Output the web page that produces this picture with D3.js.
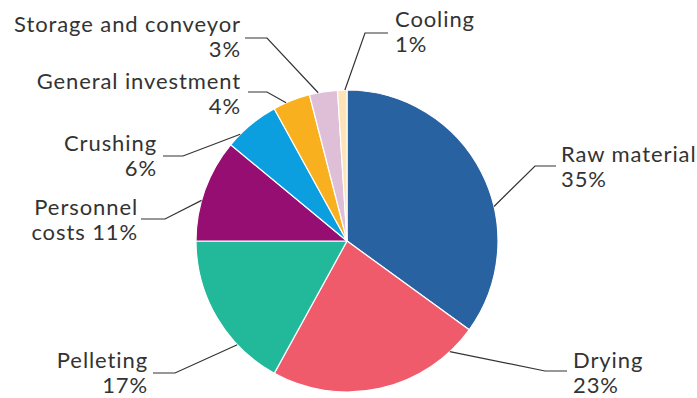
<!DOCTYPE html>
<html>
<head>
<meta charset="utf-8">
<script src="https://cdn.jsdelivr.net/npm/d3@7"></script>
<style>
  body { margin: 0; background: #fff; }
  text { font-family: Lato, "Open Sans", sans-serif; fill: #333; }
</style>
</head>
<body>
<div id="chart"></div>
<script>
// Data
var categories = ["Raw material", "Drying", "Pelleting", "Personnel costs", "Crushing",
                  "General investment", "Storage and conveyor", "Cooling"];
var shares = [35, 23, 17, 11, 6, 4, 3, 1];
var colors = ["#2962a0", "#f05b6b", "#22b99a", "#970e73", "#0c9fe0", "#f9b01f", "#dfbfd8", "#fde3b5"];
// how each label is split into lines
var labelLines = [
  ["Raw material", "35%"],
  ["Drying", "23%"],
  ["Pelleting", "17%"],
  ["Personnel", "costs 11%"],
  ["Crushing", "6%"],
  ["General investment", "4%"],
  ["Storage and conveyor", "3%"],
  ["Cooling", "1%"]
];

// Label layout: angle where leader leaves the pie (deg), elbow point, end x, text anchor point
var layout = [
  { a: 76.8,  elbow: [535, 166], end: 556, tx: 561, ty: 162, anchor: "start" },
  { a: 137.1, elbow: [545, 371], end: 567, tx: 573, ty: 368, anchor: "start" },
  { a: 226.6, elbow: [175, 373], end: 153, tx: 148, ty: 368, anchor: "end" },
  { a: 285.6, elbow: [165, 219], end: 141, tx: 138, ty: 215, anchor: "end" },
  { a: 315,   elbow: [183, 156], end: 163, tx: 157, ty: 151, anchor: "end" },
  { a: 336.2, elbow: [267, 92],  end: 248, tx: 241, ty: 89,  anchor: "end" },
  { a: 349,   elbow: [267, 38],  end: 245, tx: 241, ty: 32,  anchor: "end" },
  { a: 359.2, elbow: [365, 33],  end: 388, tx: 395, ty: 27,  anchor: "start" }
];

var width = 697, height = 398;
var cx = 347, cy = 241, radius = 151;

var svg = d3.select("#chart")
    .append("svg")
    .attr("width", width)
    .attr("height", height);

var pie = d3.pie().sort(null).value(function(d) { return d; });
var arc = d3.arc().innerRadius(0).outerRadius(radius);

var g = svg.append("g")
    .attr("transform", "translate(" + cx + "," + cy + ")");

g.selectAll("path")
    .data(pie(shares))
    .enter().append("path")
    .attr("d", arc)
    .attr("fill", function(d, i) { return colors[i]; })
    .attr("stroke", "#fff")
    .attr("stroke-width", 1.2);

// Leader lines + labels
layout.forEach(function(l, i) {
  var rad = l.a * Math.PI / 180;
  var sx = cx + radius * Math.sin(rad),
      sy = cy - radius * Math.cos(rad);
  svg.append("polyline")
      .attr("points", [[sx, sy], l.elbow, [l.end, l.elbow[1]]].map(function(p) { return p.join(","); }).join(" "))
      .attr("fill", "none")
      .attr("stroke", "#333")
      .attr("stroke-width", 1.2);

  var t = svg.append("text")
      .attr("text-anchor", l.anchor)
      .style("font-size", "22px")
      .style("letter-spacing", "0.9px");
  labelLines[i].forEach(function(line, j) {
    t.append("tspan")
        .attr("x", l.tx)
        .attr("y", l.ty + j * 25)
        .text(line);
  });
});
</script>
</body>
</html>
